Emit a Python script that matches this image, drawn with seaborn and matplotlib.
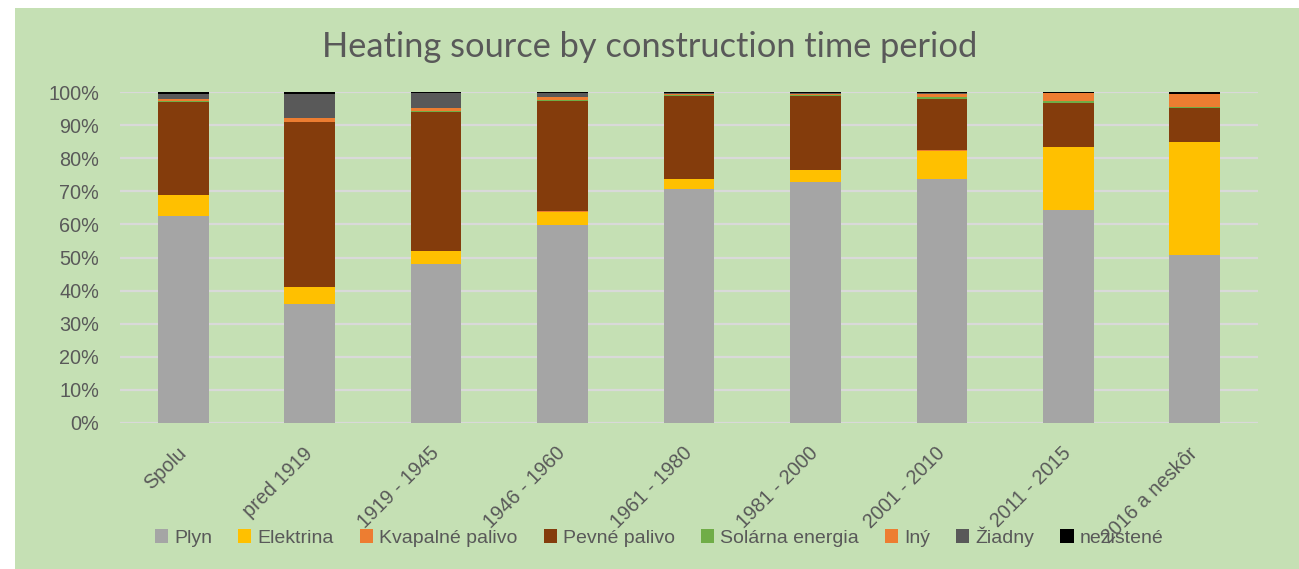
import numpy as np
import pandas as pd
import matplotlib
matplotlib.use("Agg")
import matplotlib.pyplot as plt
import seaborn as sns
from matplotlib.patches import Patch, Rectangle

# ---------------- data (percent) ----------------
categories = ["Spolu", "pred 1919", "1919 - 1945", "1946 - 1960", "1961 - 1980",
              "1981 - 2000", "2001 - 2010", "2011 - 2015", "2016 a neskôr"]
series_names = ["Plyn", "Elektrina", "Kvapalné palivo", "Pevné palivo",
                "Solárna energia", "Iný", "Žiadny", "nezistené"]
plyn      = [62.6, 36.0, 47.9, 59.9, 70.7, 72.9, 73.9, 64.5, 50.9]
elektrina = [6.2, 5.0, 4.1, 4.0, 3.0, 3.6, 8.4, 18.9, 34.0]
kvapalne  = [0.2, 0.1, 0.1, 0.1, 0.1, 0.1, 0.1, 0.1, 0.2]
pevne     = [28.0, 49.9, 42.0, 33.5, 25.2, 22.4, 15.7, 13.4, 10.2]
solarna   = [0.3, 0.1, 0.1, 0.1, 0.1, 0.2, 0.4, 0.4, 0.3]
iny       = [0.7, 1.1, 1.0, 1.0, 0.4, 0.4, 1.1, 2.5, 3.9]
ziadny    = [1.4, 7.3, 4.6, 1.3, 0.4, 0.3, 0.3, 0.1, 0.1]
nezistene = [0.6, 0.5, 0.2, 0.1, 0.1, 0.1, 0.1, 0.1, 0.4]
y_ticks = [0, 10, 20, 30, 40, 50, 60, 70, 80, 90, 100]
title = "Heating source by construction time period"

colors = ["#A5A5A5", "#FFC000", "#ED7D31", "#843C0C",
          "#70AD47", "#ED7D31", "#595959", "#000000"]
TEXT = "#595959"
BG = "#C5E0B4"

sns.set_style("white")
plt.rcParams["font.family"] = ["Liberation Sans", "DejaVu Sans"]

W, H = 1299, 569
fig = plt.figure(figsize=(W / 100, H / 100), dpi=100, facecolor="white")
fig.patches.append(Rectangle((15 / W, 0), (W - 15) / W, (H - 8) / H,
                             transform=fig.transFigure, facecolor=BG,
                             edgecolor="none", zorder=-10))

ax = fig.add_axes([120 / W, (H - 422.7) / H, 1138 / W, 330.4 / H])
ax.set_facecolor("none")

all_series = [plyn, elektrina, kvapalne, pevne, solarna, iny, ziadny, nezistene]
df = pd.DataFrame({n: v for n, v in zip(series_names, all_series)}, index=categories)
cum = df.cumsum(axis=1)

# draw cumulative totals from the top series down so lower layers overlay
for name, col in reversed(list(zip(series_names, colors))):
    d = pd.DataFrame({"cat": categories, "val": cum[name].values})
    sns.barplot(data=d, x="cat", y="val", color=col, saturation=1,
                width=0.4, ax=ax, zorder=3, linewidth=0)

ax.set_ylim(0, 100)
ax.set_xlim(-0.5, len(categories) - 0.5)
ax.set_yticks(y_ticks)
ax.set_yticklabels([f"{t}%" for t in y_ticks])
ax.grid(axis="y", color="#D9D9D9", linewidth=1.6, zorder=0)
ax.grid(axis="x", visible=False)
for s in ax.spines.values():
    s.set_visible(False)
ax.set_xlabel("")
ax.set_ylabel("")
ax.tick_params(axis="y", length=0, pad=15, labelsize=14.3, labelcolor=TEXT)
ax.tick_params(axis="x", length=0, pad=20, labelsize=14.3, labelcolor=TEXT)
for lab in ax.get_xticklabels():
    lab.set_rotation(45)
    lab.set_ha("right")
    lab.set_va("center")
    lab.set_rotation_mode("anchor")

handles = [Patch(facecolor=c, edgecolor="none", label=n)
           for n, c in zip(series_names, colors)]
fig.legend(handles=handles, loc="center", ncol=8,
           bbox_to_anchor=(659 / W, 1 - 536.5 / H), frameon=False,
           fontsize=14, labelcolor=TEXT, handlelength=0.68, handleheight=0.68,
           handletextpad=0.3, columnspacing=1.35, borderpad=0, borderaxespad=0)

t = fig.text(650 / W, 1 - 47 / H, title, ha="center", va="center",
             fontsize=24, color=TEXT, family=["Lato", "DejaVu Sans"],
             fontweight="normal")
fig.canvas.draw()
wpx = t.get_window_extent().width
t.set_fontsize(24 * 654 / wpx)

fig.savefig("out.png", dpi=100, facecolor="white")
